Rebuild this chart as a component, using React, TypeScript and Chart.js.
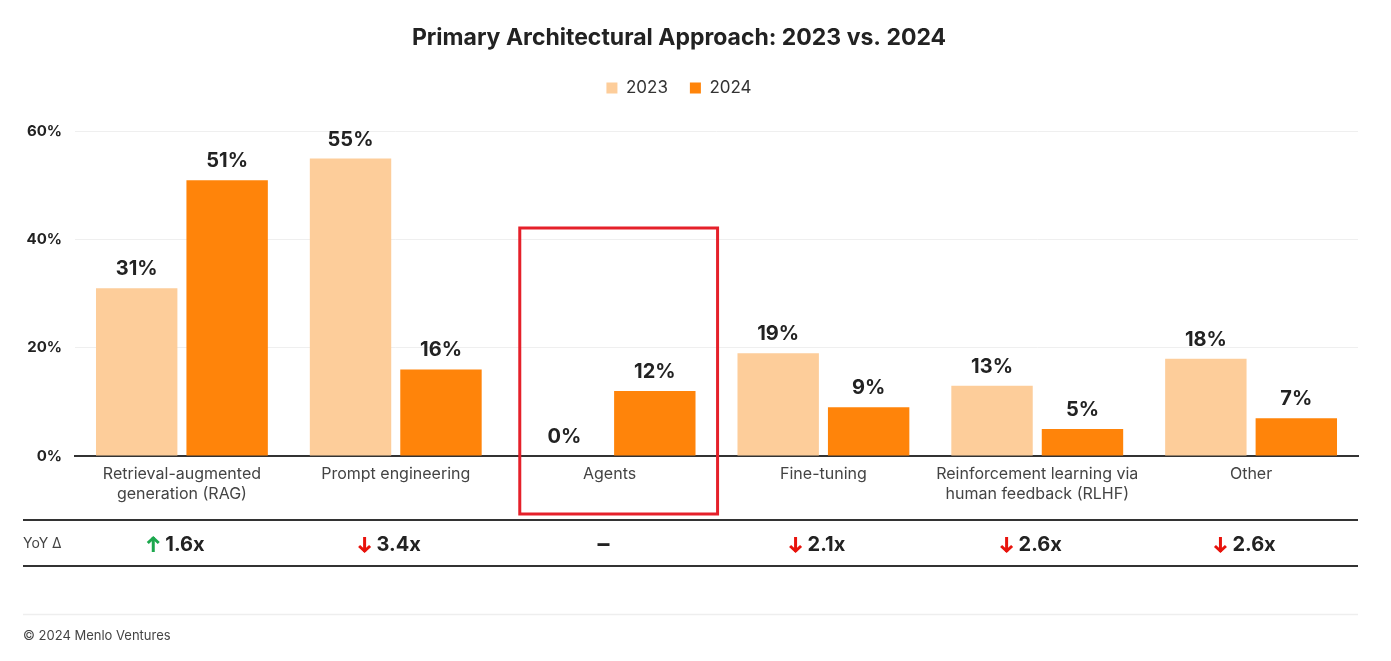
import React, { useEffect, useRef } from "react";
import { Chart, registerables } from "chart.js";

Chart.register(...registerables);

const categories: (string | string[])[] = [
  ["Retrieval-augmented", "generation (RAG)"],
  "Prompt engineering",
  "Agents",
  "Fine-tuning",
  ["Reinforcement learning via", "human feedback (RLHF)"],
  "Other",
];
const values2023 = [31, 55, 0, 19, 13, 18];
const values2024 = [51, 16, 12, 9, 5, 7];
const yoyText = ["1.6x", "3.4x", "–", "2.1x", "2.6x", "2.6x"];
const yoyDir = ["up", "down", "none", "down", "down", "down"];
const yTicks = [0, 20, 40, 60];
const highlightIndex = 2;

const FONT = "Inter, 'Noto Sans', sans-serif";
const LIGHT = "#FDCD9A";
const DARK = "#FF840A";

const dataLabelPlugin = {
  id: "dataLabels",
  afterDatasetsDraw(chart: any) {
    const ctx = chart.ctx;
    ctx.save();
    ctx.font = `bold 20px ${FONT}`;
    ctx.fillStyle = "#222";
    ctx.textAlign = "center";
    ctx.textBaseline = "middle";
    chart.data.datasets.forEach((ds: any, di: number) => {
      const meta = chart.getDatasetMeta(di);
      meta.data.forEach((bar: any, i: number) => {
        ctx.fillText(`${ds.data[i]}%`, bar.x, bar.y - 19);
      });
    });
    ctx.restore();
  },
};

const tablePlugin = {
  id: "yoyTable",
  afterDraw(chart: any) {
    const ctx = chart.ctx;
    const xs = chart.scales.x;
    const left = 23;
    const right = chart.chartArea.right;
    ctx.save();
    ctx.strokeStyle = "#333";
    ctx.lineWidth = 2;
    [520, 566].forEach((y) => {
      ctx.beginPath();
      ctx.moveTo(left, y);
      ctx.lineTo(right, y);
      ctx.stroke();
    });
    ctx.strokeStyle = "#eeeeee";
    ctx.lineWidth = 1.5;
    ctx.beginPath();
    ctx.moveTo(left, 614.5);
    ctx.lineTo(right, 614.5);
    ctx.stroke();

    ctx.textBaseline = "middle";
    ctx.textAlign = "left";
    ctx.fillStyle = "#444";
    ctx.font = `14px ${FONT}`;
    ctx.fillText("YoY Δ", left, 544);
    ctx.font = `13px ${FONT}`;
    ctx.fillText("© 2024 Menlo Ventures", left, 636);

    yoyText.forEach((t, i) => {
      const dir = yoyDir[i];
      ctx.font = dir === "none" ? `bold 24px ${FONT}` : `bold 20px ${FONT}`;
      const cx = xs.getPixelForValue(i) - 6;
      const tw = ctx.measureText(t).width;
      const aw = dir === "none" ? 0 : 12;
      const gap = dir === "none" ? 0 : 6;
      const total = aw + gap + tw;
      const x0 = cx - total / 2;
      if (dir !== "none") {
        const ax = x0 + aw / 2;
        const color = dir === "up" ? "#1DA84E" : "#E8130C";
        ctx.strokeStyle = color;
        ctx.lineWidth = 3;
        ctx.lineCap = "butt";
        ctx.lineJoin = "miter";
        const top = 537;
        const bot = 552;
        ctx.beginPath();
        ctx.moveTo(ax, top);
        ctx.lineTo(ax, bot);
        ctx.stroke();
        ctx.beginPath();
        if (dir === "up") {
          ctx.moveTo(ax - 5.5, top + 6);
          ctx.lineTo(ax, top + 1);
          ctx.lineTo(ax + 5.5, top + 6);
        } else {
          ctx.moveTo(ax - 5.5, bot - 6);
          ctx.lineTo(ax, bot - 1);
          ctx.lineTo(ax + 5.5, bot - 6);
        }
        ctx.stroke();
      }
      ctx.fillStyle = "#222";
      ctx.fillText(t, x0 + aw + gap, 545);
    });

    const cxH = xs.getPixelForValue(highlightIndex);
    const catW = xs.getPixelForValue(1) - xs.getPixelForValue(0);
    ctx.strokeStyle = "#E5202A";
    ctx.lineWidth = 3;
    ctx.strokeRect(cxH - catW * 0.42, 228, catW * 0.925, 286);
    ctx.restore();
  },
};

export default function App() {
  const ref = useRef<HTMLCanvasElement>(null);
  useEffect(() => {
    if (!ref.current) return;
    const chart = new Chart(ref.current, {
      type: "bar",
      data: {
        labels: categories,
        datasets: [
          { label: "2023", data: values2023, backgroundColor: LIGHT },
          { label: "2024", data: values2024, backgroundColor: DARK },
        ],
      },
      plugins: [dataLabelPlugin, tablePlugin],
      options: {
        animation: false,
        responsive: false,
        maintainAspectRatio: false,
        layout: { padding: { left: 0, right: 33, top: 0, bottom: 155 } },
        datasets: {
          bar: { categoryPercentage: 0.846, barPercentage: 0.9 },
        },
        plugins: {
          title: {
            display: true,
            text: "Primary Architectural Approach: 2023 vs. 2024",
            color: "#222",
            font: { family: FONT, size: 23, weight: "bold" },
            padding: { top: 24, bottom: 6 },
          },
          legend: {
            display: true,
            position: "top",
            labels: {
              boxWidth: 11,
              boxHeight: 11,
              padding: 22,
              color: "#333",
              font: { family: FONT, size: 17 },
            },
          },
          tooltip: { enabled: false },
        },
        scales: {
          x: {
            grid: { display: false, drawTicks: false },
            border: { display: true, color: "#333", width: 2 },
            ticks: {
              color: "#444",
              padding: 8,
              font: { family: FONT, size: 16, lineHeight: 1.25 },
              maxRotation: 0,
              autoSkip: false,
            },
            afterFit: (s: any) => {
              s.height = 50;
            },
          },
          y: {
            min: 0,
            max: 64.6,
            afterBuildTicks: (s: any) => {
              s.ticks = yTicks.map((v) => ({ value: v }));
            },
            grid: {
              drawTicks: false,
              color: (c: any) => (c.tick && c.tick.value === 0 ? "rgba(0,0,0,0)" : "#efefef"),
              lineWidth: 1,
            },
            border: { display: false },
            ticks: {
              color: "#222",
              padding: 13,
              font: { family: FONT, size: 15, weight: "bold" },
              callback: (v: any) => `${v}%`,
            },
            afterFit: (s: any) => {
              s.width = 75;
            },
          },
        },
      },
    } as any);
    return () => chart.destroy();
  }, []);
  return (
    <div style={{ position: "absolute", left: 0, top: 0, width: 1391, height: 661, background: "#fff" }}>
      <canvas ref={ref} width={1391} height={661} style={{ display: "block" }} />
    </div>
  );
}
